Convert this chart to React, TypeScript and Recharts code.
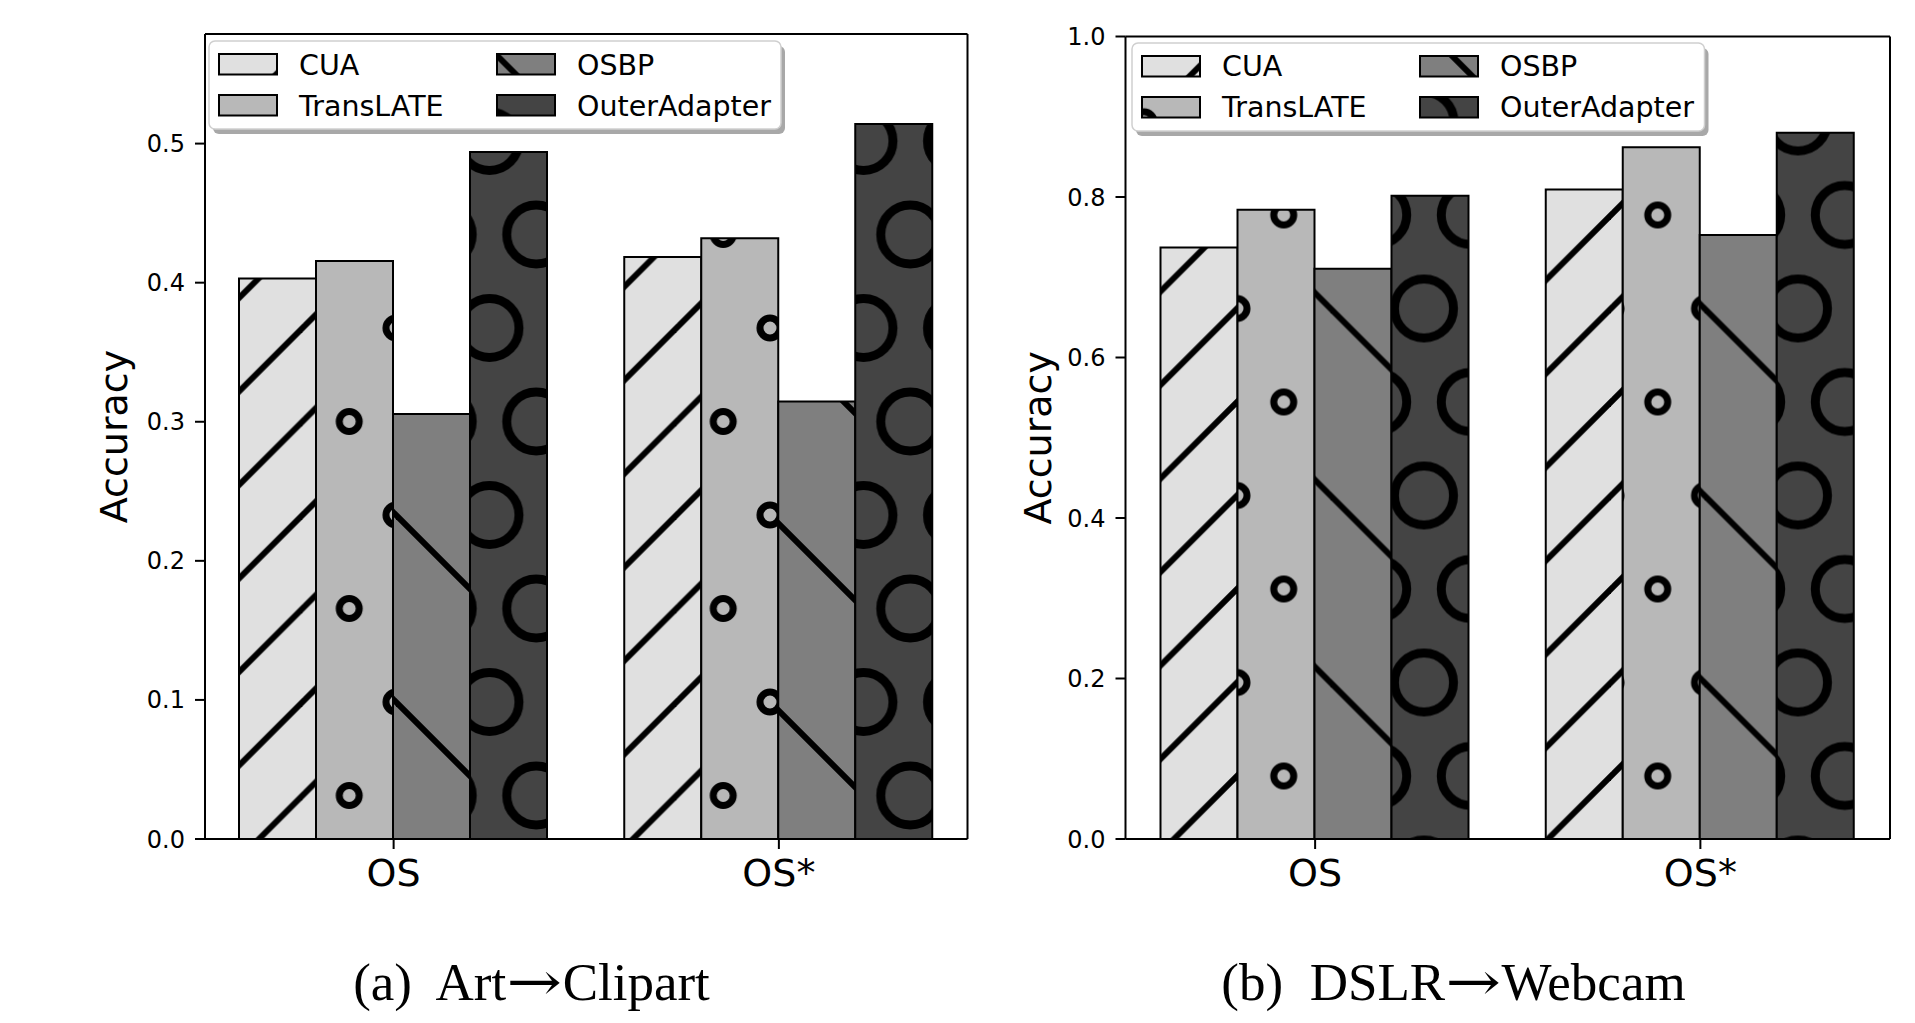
import React from 'react';
import { BarChart, Bar, XAxis, YAxis, Legend } from 'recharts';

// ---------- data ----------
const categories = ['OS', 'OS*'];
const seriesNames = ['CUA', 'TransLATE', 'OSBP', 'OuterAdapter'];
const seriesColors = ['#e0e0e0', '#b8b8b8', '#7f7f7f', '#444444'];

// (a) Art -> Clipart
const artCUA = [0.403, 0.4185];
const artTransLATE = [0.4155, 0.432];
const artOSBP = [0.3055, 0.3145];
const artOuterAdapter = [0.494, 0.514];
const artTicks = [0, 0.1, 0.2, 0.3, 0.4, 0.5];
const artMax = 0.5788;

// (b) DSLR -> Webcam
const dslrCUA = [0.737, 0.8095];
const dslrTransLATE = [0.784, 0.862];
const dslrOSBP = [0.7105, 0.7525];
const dslrOuterAdapter = [0.8015, 0.88];
const dslrTicks = [0, 0.2, 0.4, 0.6, 0.8, 1.0];
const dslrMax = 1.0;

const captionA = ['(a)  Art', 'Clipart'];
const captionB = ['(b)  DSLR', 'Webcam'];

function buildData(series: number[][]) {
  return categories.map((c, i) => {
    const row: any = { cat: c };
    seriesNames.forEach((s, j) => {
      row[s] = series[j][i];
    });
    return row;
  });
}

const artData = buildData([artCUA, artTransLATE, artOSBP, artOuterAdapter]);
const dslrData = buildData([dslrCUA, dslrTransLATE, dslrOSBP, dslrOuterAdapter]);

// ---------- hatch patterns ----------
const P = 93.5;
const HW = 6;

function Patterns({ prefix, gx, gy, bx, by }: any) {
  const circles = [
    [0, 0], [P, 0], [0, 2 * P], [P, 2 * P], [P / 2, P],
  ];
  return (
    <defs>
      <pattern id={`${prefix}-0`} patternUnits="userSpaceOnUse" x={gx} y={gy} width={P} height={P}>
        <rect x={0} y={0} width={P} height={P} fill={seriesColors[0]} />
        {[0, P, 2 * P].map((s) => (
          <line key={s} x1={-10} y1={s + 10} x2={s + 10} y2={-10} stroke="#000" strokeWidth={HW} />
        ))}
      </pattern>
      <pattern id={`${prefix}-1`} patternUnits="userSpaceOnUse" x={gx} y={gy} width={P} height={2 * P}>
        <rect x={0} y={0} width={P} height={2 * P} fill={seriesColors[1]} />
        {circles.map(([cx, cy], k) => (
          <circle key={k} cx={cx} cy={cy} r={10} fill="none" stroke="#000" strokeWidth={7} />
        ))}
      </pattern>
      <pattern id={`${prefix}-2`} patternUnits="userSpaceOnUse" x={bx} y={by} width={2 * P} height={2 * P}>
        <rect x={0} y={0} width={2 * P} height={2 * P} fill={seriesColors[2]} />
        {[-2 * P, 0, 2 * P].map((s) => (
          <line key={s} x1={-10} y1={s - 10} x2={2 * P + 10} y2={s + 2 * P + 10} stroke="#000" strokeWidth={HW} />
        ))}
      </pattern>
      <pattern id={`${prefix}-3`} patternUnits="userSpaceOnUse" x={gx} y={gy} width={P} height={2 * P}>
        <rect x={0} y={0} width={P} height={2 * P} fill={seriesColors[3]} />
        {circles.map(([cx, cy], k) => (
          <circle key={k} cx={cx} cy={cy} r={29.5} fill="none" stroke="#000" strokeWidth={9} />
        ))}
      </pattern>
    </defs>
  );
}

// ---------- legend ----------
function LegendBox({ prefix, x, y, w, h }: any) {
  const pad = 10;
  const sx = x - 2;
  const sy = y - 2;
  const sw = w + pad;
  const sh = h + pad;
  const cols = [x + 10, x + 288];
  const rows = [y + 13, y + 54];
  const textFont = { fontFamily: 'DejaVu Sans', fontSize: 28.5, fill: '#000' };
  return (
    <svg width={sw} height={sh} viewBox={`${sx} ${sy} ${sw} ${sh}`} style={{ display: 'block' }}>
      <rect x={x + 4} y={y + 5} width={w} height={h} rx={6} fill="#a8a8a8" />
      <rect x={x} y={y} width={w} height={h} rx={6} fill="#fff" stroke="#cfcfcf" strokeWidth={1.5} />
      {seriesNames.map((s, i) => {
        const col = i < 2 ? 0 : 1;
        const row = i % 2;
        const px = cols[col];
        const py = rows[row];
        return (
          <g key={s}>
            <rect x={px} y={py} width={58} height={20.5} fill={`url(#${prefix}-${i})`} stroke="#000" strokeWidth={2} />
            <text x={px + 80} y={py + 20.5} style={textFont}>{s}</text>
          </g>
        );
      })}
    </svg>
  );
}

// ---------- one panel ----------
function Panel(props: any) {
  const {
    data, ticks, yMax, prefix, width, height, margin, yAxisWidth, pad,
    gx, gy, bx, by, legend,
  } = props;
  const axisStroke = { stroke: '#000', strokeWidth: 2 };
  return (
    <BarChart
      width={width}
      height={height}
      data={data}
      margin={margin}
      barCategoryGap={38}
      barGap={0}
    >
      <Patterns prefix={prefix} gx={gx} gy={gy} bx={bx} by={by} />
      <XAxis
        dataKey="cat"
        interval={0}
        height={60}
        padding={{ left: pad, right: pad }}
        tickSize={10}
        tickMargin={10}
        axisLine={axisStroke}
        tickLine={axisStroke}
        tick={{ fontSize: 38, fontFamily: 'DejaVu Sans', fill: '#000' }}
      />
      <XAxis
        xAxisId="top"
        orientation="top"
        dataKey="cat"
        height={1}
        padding={{ left: pad, right: pad }}
        tick={false}
        tickLine={false}
        axisLine={axisStroke}
      />
      <YAxis
        type="number"
        domain={[0, yMax]}
        allowDataOverflow
        ticks={ticks}
        interval={0}
        tickFormatter={(v: number) => v.toFixed(1)}
        width={yAxisWidth}
        tickSize={10}
        tickMargin={10}
        axisLine={axisStroke}
        tickLine={axisStroke}
        tick={{ fontSize: 24, fontFamily: 'DejaVu Sans', fill: '#000' }}
        label={{
          value: 'Accuracy',
          angle: -90,
          position: 'center',
          style: { fontSize: 38, fontFamily: 'DejaVu Sans', fill: '#000' },
        }}
      />
      <YAxis
        yAxisId="right"
        orientation="right"
        type="number"
        domain={[0, yMax]}
        allowDataOverflow
        width={1}
        tick={false}
        tickLine={false}
        axisLine={axisStroke}
      />
      <Legend
        layout="vertical"
        align="center"
        verticalAlign="middle"
        wrapperStyle={{ left: legend.x - 2, top: legend.y - 2, width: legend.w + 10, height: legend.h + 10 }}
        content={() => <LegendBox prefix={prefix} x={legend.x} y={legend.y} w={legend.w} h={legend.h} />}
      />
      {seriesNames.map((s, i) => (
        <Bar
          key={s}
          dataKey={s}
          fill={`url(#${prefix}-${i})`}
          stroke="#000"
          strokeWidth={2}
          isAnimationActive={false}
        />
      ))}
    </BarChart>
  );
}

const captionStyle: React.CSSProperties = {
  position: 'absolute',
  top: 956,
  width: 700,
  textAlign: 'center',
  fontFamily: '"Liberation Serif", "DejaVu Serif", serif',
  fontSize: 53,
  lineHeight: '52px',
  whiteSpace: 'pre',
  color: '#000',
};

const arrowStyle: React.CSSProperties = {
  fontFamily: '"DejaVu Serif", serif',
  fontSize: 53,
  display: 'inline-block',
  transform: 'scaleX(1.25)',
  margin: '0 6px',
};

function Caption({ parts, center }: any) {
  return (
    <div style={{ ...captionStyle, left: center - 350 }}>
      {parts[0]}
      <span style={arrowStyle}>{'\u2192'}</span>
      {parts[1]}
    </div>
  );
}

export default function App() {
  return (
    <div style={{ position: 'absolute', left: 0, top: 0, width: 1915, height: 1023, background: '#fff', overflow: 'hidden' }}>
      <div style={{ position: 'absolute', left: 0, top: 0 }}>
        <Panel
          data={artData}
          ticks={artTicks}
          yMax={artMax}
          prefix="pa"
          width={975}
          height={910}
          margin={{ top: 33, right: 6.5, bottom: 11, left: 23 }}
          yAxisWidth={182}
          pad={-4}
          gx={396}
          gy={515}
          bx={396}
          by={515}
          legend={{ x: 209, y: 40.5, w: 572, h: 88 }}
        />
      </div>
      <div style={{ position: 'absolute', left: 920, top: 0 }}>
        <Panel
          data={dslrData}
          ticks={dslrTicks}
          yMax={dslrMax}
          prefix="pb"
          width={995}
          height={910}
          margin={{ top: 35.5, right: 24, bottom: 11, left: 30.5 }}
          yAxisWidth={175}
          pad={-3}
          gx={317}
          gy={308.5}
          bx={784.5}
          by={308.5}
          legend={{ x: 211.5, y: 42.7, w: 572.5, h: 88 }}
        />
      </div>
      <Caption parts={captionA} center={531.5} />
      <Caption parts={captionB} center={1453.5} />
    </div>
  );
}
